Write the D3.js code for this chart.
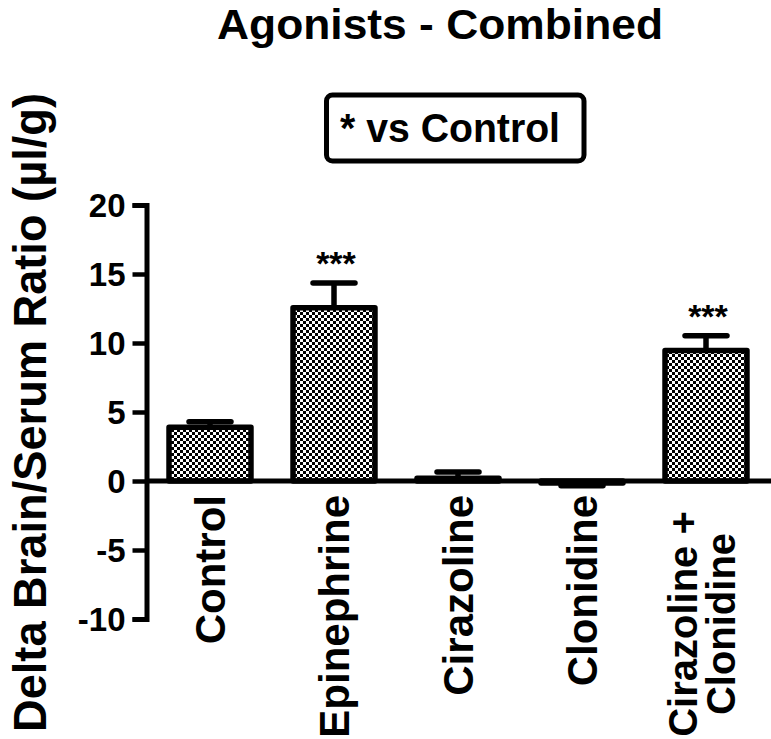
<!DOCTYPE html>
<html>
<head>
<meta charset="utf-8">
<script src="https://cdn.jsdelivr.net/npm/d3@7"></script>
<style>
  html, body { margin: 0; padding: 0; background: #fff; }
  svg { display: block; }
  text { font-family: "Liberation Sans", Arial, Helvetica, sans-serif; font-weight: bold; fill: #000; }
</style>
</head>
<body>
<svg id="chart" width="771" height="739"></svg>
<script>
// ---- data ----
const categories = ["Control", "Epinephrine", "Cirazoline", "Clonidine", "Cirazoline +\nClonidine"];
const means = [3.9, 12.55, 0.2, -0.15, 9.45];
const sems = [0.4, 1.8, 0.45, 0.2, 1.07];
const stars = ["", "***", "", "", "***"];
const yTicks = [-10, -5, 0, 5, 10, 15, 20];
const yTickLabels = ["-10", "-5", "0", "5", "10", "15", "20"];
const yDomain = [-10, 20];
const titleText = "Agonists - Combined";
const legendText = "* vs Control";
const yLabel = "Delta Brain/Serum Ratio (\u00b5l/g)";

// ---- layout ----
const svg = d3.select("#chart");
const W = 771, H = 739;
const axisX = 146.5;

const y = d3.scaleLinear().domain(yDomain).range([619, 205]);
const x = d3.scaleBand().domain(categories).range([148, 768]).paddingInner(0.339).paddingOuter(0.1695);
const bw = x.bandwidth();

// checkerboard pattern
const defs = svg.append("defs");
const pat = defs.append("pattern").attr("id", "checker")
  .attr("patternUnits", "userSpaceOnUse").attr("width", 6).attr("height", 6);
pat.append("rect").attr("width", 6).attr("height", 6).attr("fill", "#fff");
pat.append("rect").attr("x", 0).attr("y", 0).attr("width", 3).attr("height", 3).attr("fill", "#000");
pat.append("rect").attr("x", 3).attr("y", 3).attr("width", 3).attr("height", 3).attr("fill", "#000");

// title
svg.append("text").attr("x", 440).attr("y", 39).attr("text-anchor", "middle")
  .attr("font-size", 43).attr("textLength", 446).attr("lengthAdjust", "spacingAndGlyphs")
  .text(titleText);

// legend box
svg.append("rect").attr("x", 326.5).attr("y", 95).attr("width", 257.5).attr("height", 66)
  .attr("rx", 6).attr("fill", "#fff").attr("stroke", "#000").attr("stroke-width", 5);
svg.append("text").attr("x", 450).attr("y", 141.5).attr("text-anchor", "middle")
  .attr("font-size", 40).attr("textLength", 220).attr("lengthAdjust", "spacingAndGlyphs")
  .text(legendText);

// y label
svg.append("text").attr("transform", `translate(46,412.5) rotate(-90)`)
  .attr("text-anchor", "middle").attr("font-size", 46)
  .attr("textLength", 639).attr("lengthAdjust", "spacingAndGlyphs")
  .text(yLabel);

// bars
const data = categories.map((c, i) => ({c, m: means[i], s: sems[i], st: stars[i]}));
svg.append("g").selectAll("rect").data(data).join("rect")
  .attr("x", d => x(d.c))
  .attr("y", d => y(Math.max(0, d.m)))
  .attr("width", bw)
  .attr("height", d => Math.abs(y(d.m) - y(0)))
  .attr("fill", "url(#checker)")
  .attr("stroke", "#000").attr("stroke-width", 5.5).attr("stroke-linejoin", "round");

// error bars
const eb = svg.append("g").attr("stroke", "#000").attr("stroke-width", 5.5).attr("stroke-linecap", "round");
data.forEach(d => {
  const cx = x(d.c) + bw / 2;
  const tip = d.m >= 0 ? d.m + d.s : d.m - d.s;
  eb.append("line").attr("x1", cx).attr("x2", cx).attr("y1", y(d.m)).attr("y2", y(tip)).attr("stroke-linecap", "butt");
  eb.append("line").attr("x1", cx - 21).attr("x2", cx + 21).attr("y1", y(tip)).attr("y2", y(tip));
});

// significance stars
svg.append("g").selectAll("text").data(data.filter(d => d.st)).join("text")
  .attr("x", d => x(d.c) + bw / 2 + 2)
  .attr("y", d => y(d.m + d.s) - 8)
  .attr("text-anchor", "middle")
  .attr("font-size", 34).attr("font-weight", "normal")
  .text(d => d.st);

// x axis line (zero line)
svg.append("line").attr("x1", axisX).attr("x2", W).attr("y1", y(0)).attr("y2", y(0))
  .attr("stroke", "#000").attr("stroke-width", 5);

// y axis
const yAxis = d3.axisLeft(y).tickValues(yTicks).tickSize(14).tickSizeOuter(14).tickPadding(7)
  .tickFormat((d, i) => yTickLabels[i]);
const gy = svg.append("g").attr("transform", `translate(${axisX},0)`).call(yAxis);
gy.select(".domain").attr("stroke", "#000").attr("stroke-width", 5).attr("stroke-linejoin", "miter");
gy.selectAll(".tick line").attr("stroke", "#000").attr("stroke-width", 4.5);
gy.selectAll(".tick text").attr("font-size", 33).attr("font-family", "Liberation Sans, Arial, sans-serif")
  .attr("font-weight", "bold").attr("fill", "#000").attr("dy", "0.35em");

// category labels (rotated)
const lab = svg.append("g");
data.forEach(d => {
  const cx = x(d.c) + bw / 2;
  const lines = d.c.split("\n");
  if (lines.length === 1) {
    lab.append("text").attr("transform", `translate(${cx},495) rotate(-90)`)
      .attr("dy", "0.35em").attr("text-anchor", "end").attr("font-size", 42).text(lines[0]);
  } else {
    // multi-line: lines centred on each other
    const lh = 38;
    const g = lab.append("g").attr("transform", `translate(${cx - 4},624) rotate(-90)`);
    lines.forEach((ln, j) => {
      const off = (j - (lines.length - 1) / 2) * lh;
      g.append("text").attr("x", 0).attr("y", off).attr("dy", "0.35em")
        .attr("text-anchor", "middle").attr("font-size", 40).text(ln);
    });
  }
});
</script>
</body>
</html>
